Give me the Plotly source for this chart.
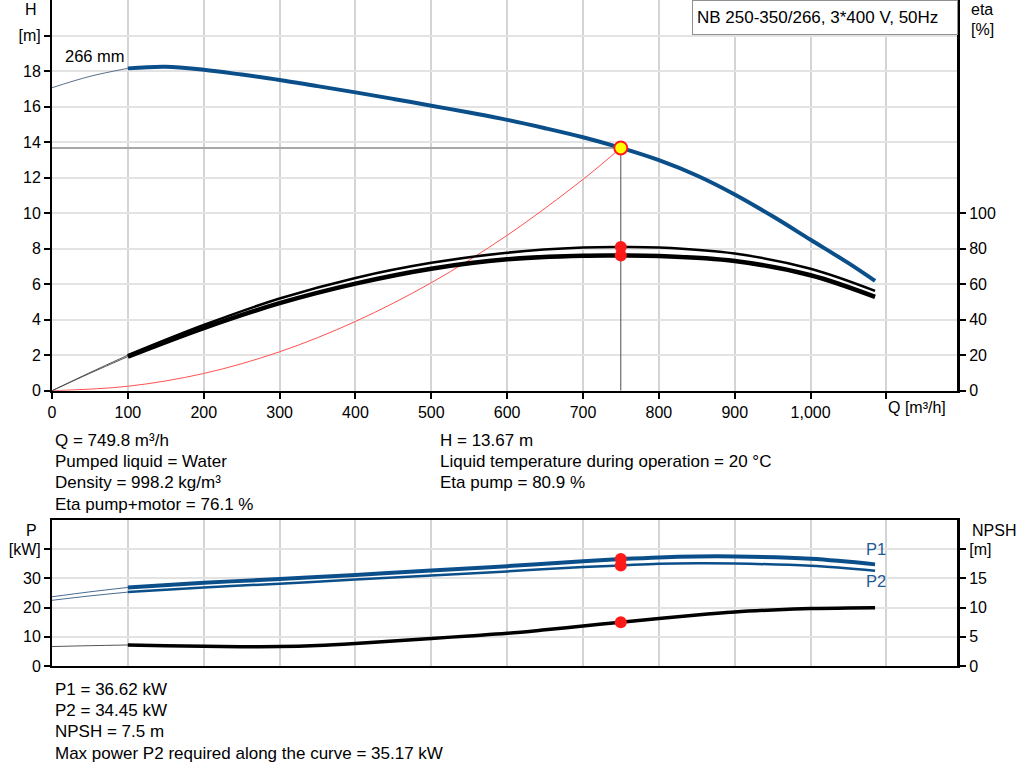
import plotly.graph_objects as go

# ---------------- data ----------------
Q_H = [0, 50, 100, 150, 200, 250, 300, 350, 400, 450, 500, 550, 600, 650, 700, 750,
       800, 850, 900, 950, 1000, 1050, 1085]
H_m = [17.06, 17.7, 18.15, 18.24, 18.07, 17.8, 17.5, 17.15, 16.8, 16.43, 16.05, 15.66,
       15.25, 14.78, 14.27, 13.67, 12.98, 12.12, 11.05, 9.82, 8.5, 7.18, 6.18]

Q_ETA = [0, 50, 100, 200, 300, 400, 500, 600, 700, 750, 800, 900, 1000, 1085]
ETA_PUMP = [0, 10.2, 20.0, 37.0, 51.9, 63.5, 72.0, 77.7, 80.6, 80.9, 80.6, 77.2, 68.7, 56.2]
ETA_TOTAL = [0, 9.8, 19.2, 35.3, 49.3, 60.3, 68.7, 74.0, 76.0, 76.1, 75.8, 73.0, 65.0, 52.8]

Q_SYS = [0, 100, 200, 300, 400, 500, 600, 700, 749.8]
H_SYS = [0, 0.25, 0.97, 2.19, 3.9, 6.08, 8.75, 11.9, 13.67]

Q_P = [0, 50, 100, 200, 300, 400, 500, 600, 700, 750, 800, 850, 900, 1000, 1085]
P1_KW = [23.7, 25.4, 26.9, 28.5, 29.8, 31.2, 32.7, 34.2, 35.9, 36.62, 37.2, 37.5, 37.5, 36.7, 34.8]
P2_KW = [22.5, 24.0, 25.3, 26.9, 28.2, 29.6, 31.0, 32.4, 33.9, 34.45, 35.0, 35.17, 35.1, 34.3, 32.6]

Q_NPSH = [0, 50, 100, 150, 200, 250, 300, 350, 400, 450, 500, 550, 600, 650, 700, 750,
          800, 850, 900, 950, 1000, 1050, 1085]
NPSH_M = [3.33, 3.48, 3.6, 3.48, 3.38, 3.31, 3.32, 3.5, 3.85, 4.28, 4.72, 5.15, 5.6,
          6.2, 6.85, 7.5, 8.15, 8.75, 9.25, 9.6, 9.85, 9.95, 9.97]

DUTY_Q = 749.8
DUTY_H = 13.67
DUTY_ETA_PUMP = 80.9
DUTY_ETA_TOTAL = 76.1
DUTY_P1 = 36.62
DUTY_P2 = 34.45
DUTY_NPSH = 7.5

X_TICKS = [0, 100, 200, 300, 400, 500, 600, 700, 800, 900, 1000, 1100]
X_LABELS = ["0", "100", "200", "300", "400", "500", "600", "700", "800", "900", "1,000", ""]
H_TICKS = [0, 2, 4, 6, 8, 10, 12, 14, 16, 18, 20]
H_LABELS = ["0", "2", "4", "6", "8", "10", "12", "14", "16", "18", "[m]"]
ETA_TICKS = [0, 20, 40, 60, 80, 100]
P_TICKS = [0, 10, 20, 30, 40]
P_LABELS = ["0", "10", "20", "30", "[kW]"]
NPSH_TICKS = [0, 5, 10, 15, 20]
NPSH_LABELS = ["0", "5", "10", "15", "[m]"]

TITLE = "NB 250-350/266, 3*400 V, 50Hz"
INFO_LEFT = ["Q = 749.8 m³/h", "Pumped liquid = Water", "Density = 998.2 kg/m³", "Eta pump+motor = 76.1 %"]
INFO_RIGHT = ["H = 13.67 m", "Liquid temperature during operation = 20 °C", "Eta pump = 80.9 %"]
INFO_BOTTOM = ["P1 = 36.62 kW", "P2 = 34.45 kW", "NPSH = 7.5 m", "Max power P2 required along the curve = 35.17 kW"]

# ---------------- style ----------------
BLUE = "#0b4f8a"
FONT = "Arial, Liberation Sans, sans-serif"
W, HGT = 1024, 781
ML, MR, MT, MB = 52, 67, 0, 115
PH = HGT - MT - MB  # plot height in px
PW = W - ML - MR
TICK_SIZE = 16
TEXT_SIZE = 17


def py(pix):
    """pixel y (from top) -> paper y"""
    return (HGT - MB - pix) / PH


def px(pix):
    return (pix - ML) / PW


def split(xs, ys, cut=100):
    thin_x = [x for x in xs if x <= cut]
    thin_y = ys[:len(thin_x)]
    thick_x = [x for x in xs if x >= cut]
    thick_y = ys[len(xs) - len(thick_x):]
    return thin_x, thin_y, thick_x, thick_y


fig = go.Figure()


def add_curve(xs, ys, xa, ya, color, w_thick, w_thin=1.0, thin_color=None):
    tx, ty, kx, ky = split(xs, ys)
    fig.add_trace(go.Scatter(x=tx, y=ty, xaxis=xa, yaxis=ya, mode="lines",
                             line=dict(color=thin_color or color, width=w_thin, shape="spline"),
                             hoverinfo="skip", showlegend=False))
    fig.add_trace(go.Scatter(x=kx, y=ky, xaxis=xa, yaxis=ya, mode="lines",
                             line=dict(color=color, width=w_thick, shape="spline"),
                             hoverinfo="skip", showlegend=False))


# duty point guide lines (top chart)
fig.add_trace(go.Scatter(x=[0, DUTY_Q], y=[DUTY_H, DUTY_H], xaxis="x", yaxis="y", mode="lines",
                         line=dict(color="#a8a8a8", width=2), hoverinfo="skip", showlegend=False))
fig.add_trace(go.Scatter(x=[DUTY_Q, DUTY_Q], y=[0, DUTY_H], xaxis="x", yaxis="y", mode="lines",
                         line=dict(color="#505050", width=1), hoverinfo="skip", showlegend=False))

# system curve (red)
fig.add_trace(go.Scatter(x=Q_SYS, y=H_SYS, xaxis="x", yaxis="y", mode="lines",
                         line=dict(color="#ff5050", width=1, shape="spline"),
                         hoverinfo="skip", showlegend=False))

# efficiency curves
add_curve(Q_ETA, ETA_PUMP, "x", "y2", "black", 2.5, 1.0, "#555555")
add_curve(Q_ETA, ETA_TOTAL, "x", "y2", "black", 4.5, 1.0, "#555555")

# H curve
add_curve(Q_H, H_m, "x", "y", BLUE, 4, 1.0, "#5a6f8a")

# duty markers top
fig.add_trace(go.Scatter(x=[DUTY_Q, DUTY_Q], y=[DUTY_ETA_PUMP, DUTY_ETA_TOTAL], xaxis="x", yaxis="y2",
                         mode="markers", marker=dict(color="#ff1a1a", size=12),
                         hoverinfo="skip", showlegend=False))
fig.add_trace(go.Scatter(x=[DUTY_Q], y=[DUTY_H], xaxis="x", yaxis="y", mode="markers",
                         marker=dict(color="#ffff00", size=13, line=dict(color="#ff1a1a", width=2)),
                         hoverinfo="skip", showlegend=False))

# bottom chart curves
add_curve(Q_P, P2_KW, "x2", "y3", BLUE, 2.5, 1.0, "#4a6a90")
add_curve(Q_P, P1_KW, "x2", "y3", BLUE, 4, 1.0, "#4a6a90")
add_curve(Q_NPSH, NPSH_M, "x2", "y4", "black", 3.5, 1.0, "#555555")

fig.add_trace(go.Scatter(x=[DUTY_Q, DUTY_Q], y=[DUTY_P1, DUTY_P2], xaxis="x2", yaxis="y3",
                         mode="markers", marker=dict(color="#ff1a1a", size=12),
                         hoverinfo="skip", showlegend=False))
fig.add_trace(go.Scatter(x=[DUTY_Q], y=[DUTY_NPSH], xaxis="x2", yaxis="y4",
                         mode="markers", marker=dict(color="#ff1a1a", size=12),
                         hoverinfo="skip", showlegend=False))

XR = [0, 1193]
top_dom = [py(390.7), 1.0]
bot_dom = [0.0, py(520)]
tickfont = dict(family=FONT, size=TICK_SIZE, color="black")

fig.update_layout(
    width=W, height=HGT,
    margin=dict(l=ML, r=MR, t=MT, b=MB, pad=0),
    paper_bgcolor="white", plot_bgcolor="white",
    font=dict(family=FONT, size=TEXT_SIZE, color="black"),
    showlegend=False,
    xaxis=dict(domain=[0, 1], anchor="y", range=XR, tickvals=X_TICKS, ticktext=X_LABELS,
               showgrid=True, gridcolor="#d4d4d4", gridwidth=1.5, zeroline=False,
               showline=True, linecolor="black", linewidth=2, ticks="outside", ticklen=6,
               tickcolor="black", tickwidth=1.5, tickfont=tickfont),
    yaxis=dict(domain=top_dom, anchor="x", range=[0, 22], tickvals=H_TICKS, ticktext=H_LABELS,
               showgrid=True, gridcolor="#e3e3e3", gridwidth=2, zeroline=False,
               showline=True, linecolor="black", linewidth=2, ticks="outside", ticklen=6,
               tickcolor="black", tickwidth=1.5, tickfont=tickfont),
    yaxis2=dict(overlaying="y", side="right", anchor="x", range=[0, 220], tickvals=ETA_TICKS,
                showgrid=False, zeroline=False, showline=True, linecolor="black", linewidth=3,
                ticks="outside", ticklen=6, tickcolor="black", tickwidth=1.5, tickfont=tickfont),
    xaxis2=dict(domain=[0, 1], anchor="y3", range=XR, tickvals=X_TICKS, showticklabels=False,
                showgrid=True, gridcolor="#d4d4d4", gridwidth=1.5, zeroline=False,
                showline=True, linecolor="black", linewidth=2, mirror=True, ticks=""),
    yaxis3=dict(domain=bot_dom, anchor="x2", range=[0, 50], tickvals=P_TICKS, ticktext=P_LABELS,
                showgrid=True, gridcolor="#e3e3e3", gridwidth=2, zeroline=False,
                showline=True, linecolor="black", linewidth=2, ticks="outside", ticklen=6,
                tickcolor="black", tickwidth=1.5, tickfont=tickfont),
    yaxis4=dict(overlaying="y3", side="right", anchor="x2", range=[0, 25], tickvals=NPSH_TICKS,
                ticktext=NPSH_LABELS, showgrid=False, zeroline=False, showline=True,
                linecolor="black", linewidth=3, ticks="outside", ticklen=6, tickcolor="black",
                tickwidth=1.5, tickfont=tickfont),
)

ann = []


def txt(x, ypix, text, xanchor="left", color="black", xref="paper", size=TEXT_SIZE):
    ann.append(dict(x=x, y=py(ypix), xref=xref, yref="paper",
                    text=text, showarrow=False, xanchor=xanchor, yanchor="middle",
                    font=dict(family=FONT, size=size, color=color)))


# axis titles
txt(px(31), 10, "H", xanchor="center", size=TICK_SIZE)
txt(px(982), 10, "eta", xanchor="center", size=TICK_SIZE)
txt(px(982), 30, "[%]", xanchor="center", size=TICK_SIZE)
txt(px(31), 530, "P", xanchor="center", size=TICK_SIZE)
txt(px(994), 530, "NPSH", xanchor="center", size=TICK_SIZE)
txt(1100, 407, "Q [m³/h]", xanchor="left", xref="x", size=TICK_SIZE)
txt(px(63), 56, "266 mm", size=16.5)
# curve labels
txt(px(864), 549, "P1", color="#1f5a96", size=16.5)
txt(px(864), 581, "P2", color="#1f5a96", size=16.5)
# title box
ann.append(dict(x=px(692), y=1.0, xref="paper", yref="paper", text=TITLE, showarrow=False,
                xanchor="left", yanchor="top", align="left", width=256, height=25,
                bordercolor="#909090", borderwidth=1, bgcolor="white", borderpad=4,
                font=dict(family=FONT, size=TEXT_SIZE, color="black")))
# info text
for i, t in enumerate(INFO_LEFT):
    txt(px(53), 440 + i * 21.4, t)
for i, t in enumerate(INFO_RIGHT):
    txt(px(438), 440 + i * 21.4, t)
for i, t in enumerate(INFO_BOTTOM):
    txt(px(53), 689 + i * 21.4, t)

fig.update_layout(annotations=ann)
fig.write_html("out.html", config={"displayModeBar": False},
               post_script="document.body.style.margin='0px';")
